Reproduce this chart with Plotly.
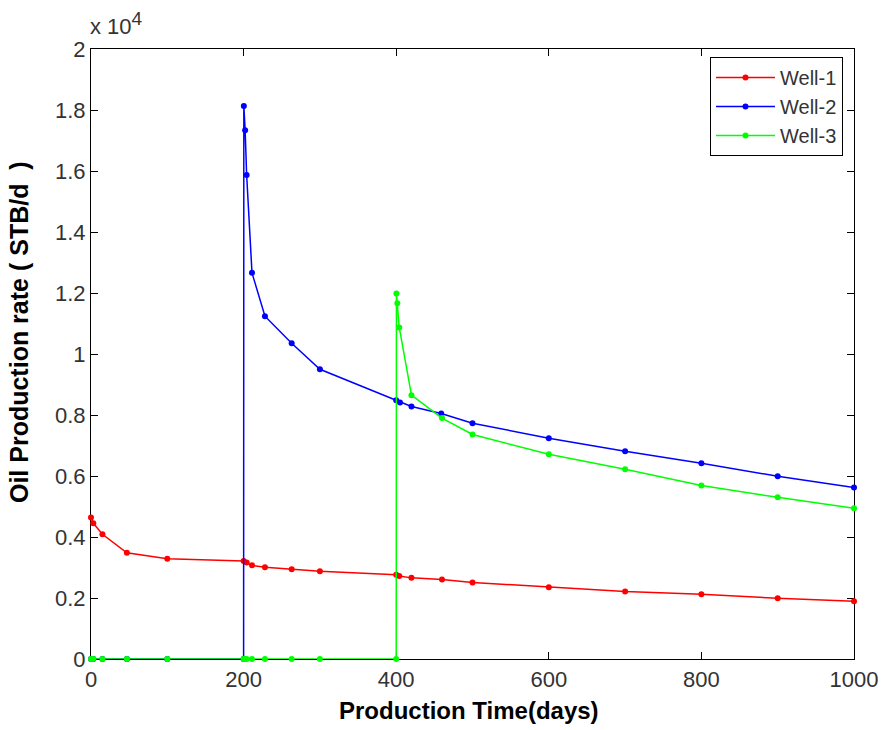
import plotly.graph_objects as go

# Time (days) and oil rate (x 10^4 STB/d)
t_well1 = [0, 3, 15, 47, 100, 200, 204, 211, 228, 263, 300, 400, 404, 420, 460, 500, 600, 700, 800, 900, 1000]
q_well1 = [0.464, 0.445, 0.409, 0.348, 0.329, 0.321, 0.316, 0.307, 0.301, 0.294, 0.288, 0.276, 0.272, 0.266, 0.261, 0.251, 0.235, 0.221, 0.212, 0.199, 0.189]

t_well2 = [0, 3, 15, 47, 100, 200, 200.3, 202, 204, 211, 228, 263, 300, 400, 405, 420, 459, 500, 600, 700, 800, 900, 1000]
q_well2 = [0, 0, 0, 0, 0, 0, 1.813, 1.734, 1.587, 1.266, 1.124, 1.035, 0.95, 0.848, 0.841, 0.828, 0.805, 0.773, 0.724, 0.681, 0.642, 0.599, 0.562]

t_well3 = [0, 3, 15, 47, 100, 200, 201, 204, 211, 228, 263, 300, 400, 400.3, 401.5, 404, 420, 460, 500, 600, 700, 800, 900, 1000]
q_well3 = [0, 0, 0, 0, 0, 0, 0, 0, 0, 0, 0, 0, 0, 1.198, 1.166, 1.087, 0.865, 0.79, 0.736, 0.671, 0.622, 0.569, 0.53, 0.494]

x_ticks = [0, 200, 400, 600, 800, 1000]
y_ticks = [0, 0.2, 0.4, 0.6, 0.8, 1, 1.2, 1.4, 1.6, 1.8, 2]
y_ticktext = ["0", "0.2", "0.4", "0.6", "0.8", "1", "1.2", "1.4", "1.6", "1.8", "2"]

series = [
    ("Well-1", t_well1, q_well1, "#ff0000"),
    ("Well-2", t_well2, q_well2, "#0000ff"),
    ("Well-3", t_well3, q_well3, "#00ff00"),
]

fig = go.Figure()
for name, t, q, c in series:
    fig.add_trace(go.Scatter(
        x=t, y=q, name=name, mode="lines+markers",
        line=dict(color=c, width=1.5),
        marker=dict(color=c, size=6),
        cliponaxis=False,
    ))

font = "Liberation Sans, Arial, sans-serif"
axis_common = dict(
    showline=True, linecolor="black", linewidth=1.2, mirror="ticks",
    ticks="inside", ticklen=7, tickcolor="black", tickwidth=1,
    showgrid=False, zeroline=False, layer="below traces", automargin=False,
    tickfont=dict(family=font, size=22, color="#333333"),
)

fig.update_layout(
    width=885, height=730,
    margin=dict(l=91, r=31, t=49, b=71),
    paper_bgcolor="white", plot_bgcolor="white",
    font=dict(family=font, color="black"),
    xaxis=dict(range=[0, 1000], tickvals=x_ticks, **axis_common),
    yaxis=dict(range=[0, 2], tickvals=y_ticks, ticktext=y_ticktext, **axis_common),
    legend=dict(x=0.9856, y=0.987, xanchor="right", yanchor="top",
                bgcolor="white", bordercolor="black", borderwidth=1,
                font=dict(family=font, size=20, color="#333333"),
                tracegroupgap=0, itemwidth=59),
    showlegend=True,
    annotations=[
        dict(text="x 10<sup><span style='font-size:19px'>4</span></sup>", xref="paper", yref="paper", x=0, y=1,
             xanchor="left", yanchor="bottom", yshift=8, xshift=-3, showarrow=False,
             font=dict(family=font, size=22, color="#333333")),
        dict(text="<b>Production Time(days)</b>", xref="paper", yref="paper", x=0.495, y=0,
             xanchor="center", yanchor="top", yshift=-36, showarrow=False,
             font=dict(family=font, size=24, color="black")),
        dict(text="<b>Oil Production rate ( STB/d\u00a0 )</b>", xref="paper", yref="paper",
             x=0, y=0.536, xanchor="right", yanchor="middle", xshift=-56, textangle=-90,
             showarrow=False, font=dict(family=font, size=25, color="black")),
    ],
)

fig.write_html("out.html")
